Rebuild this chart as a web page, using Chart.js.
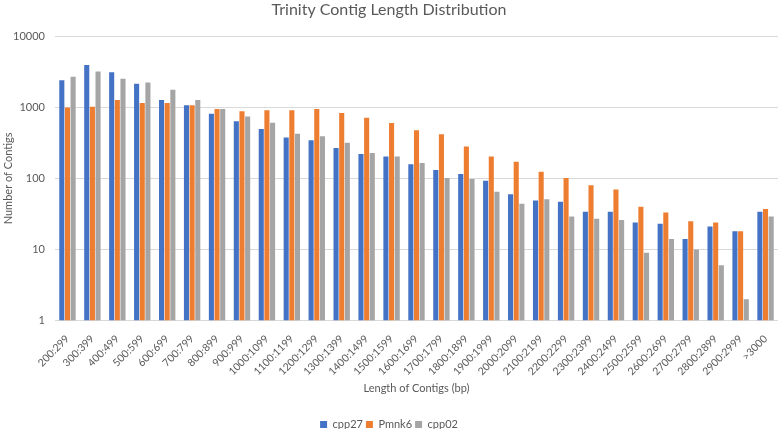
<!DOCTYPE html>
<html>
<head>
<meta charset="utf-8">
<script src="https://cdn.jsdelivr.net/npm/chart.js@4.4.1/dist/chart.umd.min.js"></script>
<style>
  html, body { margin: 0; padding: 0; background: #fff; }
  #wrap { width: 778px; height: 429px; }
</style>
</head>
<body>
<div id="wrap"><canvas id="myChart"></canvas></div>
<script>
// length bins (bp)
const labels = ['200:299', '300:399', '400:499', '500:599', '600:699', '700:799', '800:899', '900:999',
    '1000:1099', '1100:1199', '1200:1299', '1300:1399', '1400:1499', '1500:1599', '1600:1699',
    '1700:1799', '1800:1899', '1900:1999', '2000:2099', '2100:2199', '2200:2299', '2300:2399',
    '2400:2499', '2500:2599', '2600:2699', '2700:2799', '2800:2899', '2900:2999', '>3000'];

const cpp27 = [2400, 3950, 3100, 2150, 1270, 1070, 810, 635, 495, 375, 345, 268, 220, 203, 158,
    131, 115, 93, 60, 49, 47, 34, 34, 24, 23, 14, 21, 18, 34];
const pmnk6 = [990, 1020, 1270, 1150, 1150, 1070, 950, 880, 910, 910, 950, 830, 715, 600, 475,
    418, 280, 203, 172, 124, 101, 80, 70, 40, 33, 25, 24, 18, 37];
const cpp02 = [2700, 3200, 2520, 2230, 1760, 1270, 950, 745, 605, 425, 390, 318, 228, 203, 165,
    101, 98, 65, 44, 51, 29, 27, 26, 9, 14, 10, 6, 2, 29];

const yTicks = [1, 10, 100, 1000, 10000];

const textColor = '#595959';
const gridColor = '#D9D9D9';

const ctx = document.getElementById('myChart').getContext('2d');
const myChart = new Chart(ctx, {
    type: 'bar',
    data: {
        labels: labels,
        datasets: [
            { label: 'cpp27', data: cpp27, backgroundColor: '#4472C4' },
            { label: 'Pmnk6', data: pmnk6, backgroundColor: '#ED7D31' },
            { label: 'cpp02', data: cpp02, backgroundColor: '#A5A5A5' }
        ]
    },
    options: {
        responsive: true,
        maintainAspectRatio: false,
        animation: false,
        datasets: {
            bar: { barPercentage: 0.9, categoryPercentage: 0.68 }
        },
        // negative bottom so the legend sits close to the edge, as in Excel
        layout: { padding: { left: 0, right: 0, top: 0, bottom: -11 } },
        plugins: {
            title: {
                display: true,
                text: 'Trinity Contig Length Distribution',
                color: textColor,
                font: { family: 'Lato', size: 16, weight: 'normal' },
                padding: { top: 0, bottom: 17 }
            },
            legend: {
                position: 'bottom',
                labels: {
                    color: textColor,
                    font: { family: 'Lato', size: 11 },
                    boxWidth: 7,
                    boxHeight: 7,
                    padding: 3
                }
            },
            tooltip: { enabled: false }
        },
        scales: {
            x: {
                grid: { display: false },
                border: { color: gridColor },
                afterFit: (scale) => {
                    // let the first rotated label hang under the y axis
                    scale.paddingLeft = 0;
                    scale.paddingRight = 0;
                },
                ticks: {
                    color: textColor,
                    font: { family: 'Lato', size: 10.5 },
                    minRotation: 45,
                    maxRotation: 45,
                    autoSkip: false,
                    padding: 4
                },
                title: {
                    display: true,
                    text: 'Length of Contigs (bp)',
                    color: textColor,
                    font: { family: 'Lato', size: 11 },
                    padding: { top: 0, bottom: 21 }
                }
            },
            y: {
                type: 'logarithmic',
                min: 1,
                max: 10000,
                afterBuildTicks: (scale) => {
                    scale.ticks = yTicks.map(v => ({ value: v }));
                },
                afterFit: (scale) => {
                    scale.width = 55;
                },
                grid: { color: gridColor, drawTicks: false },
                border: { display: false },
                ticks: {
                    color: textColor,
                    font: { family: 'Lato', size: 11 },
                    padding: 10,
                    callback: (v) => String(v)
                },
                title: {
                    display: true,
                    text: 'Number of Contigs',
                    color: textColor,
                    font: { family: 'Lato', size: 11 },
                    padding: { top: 2, bottom: 0 }
                }
            }
        }
    }
});
</script>
</body>
</html>
